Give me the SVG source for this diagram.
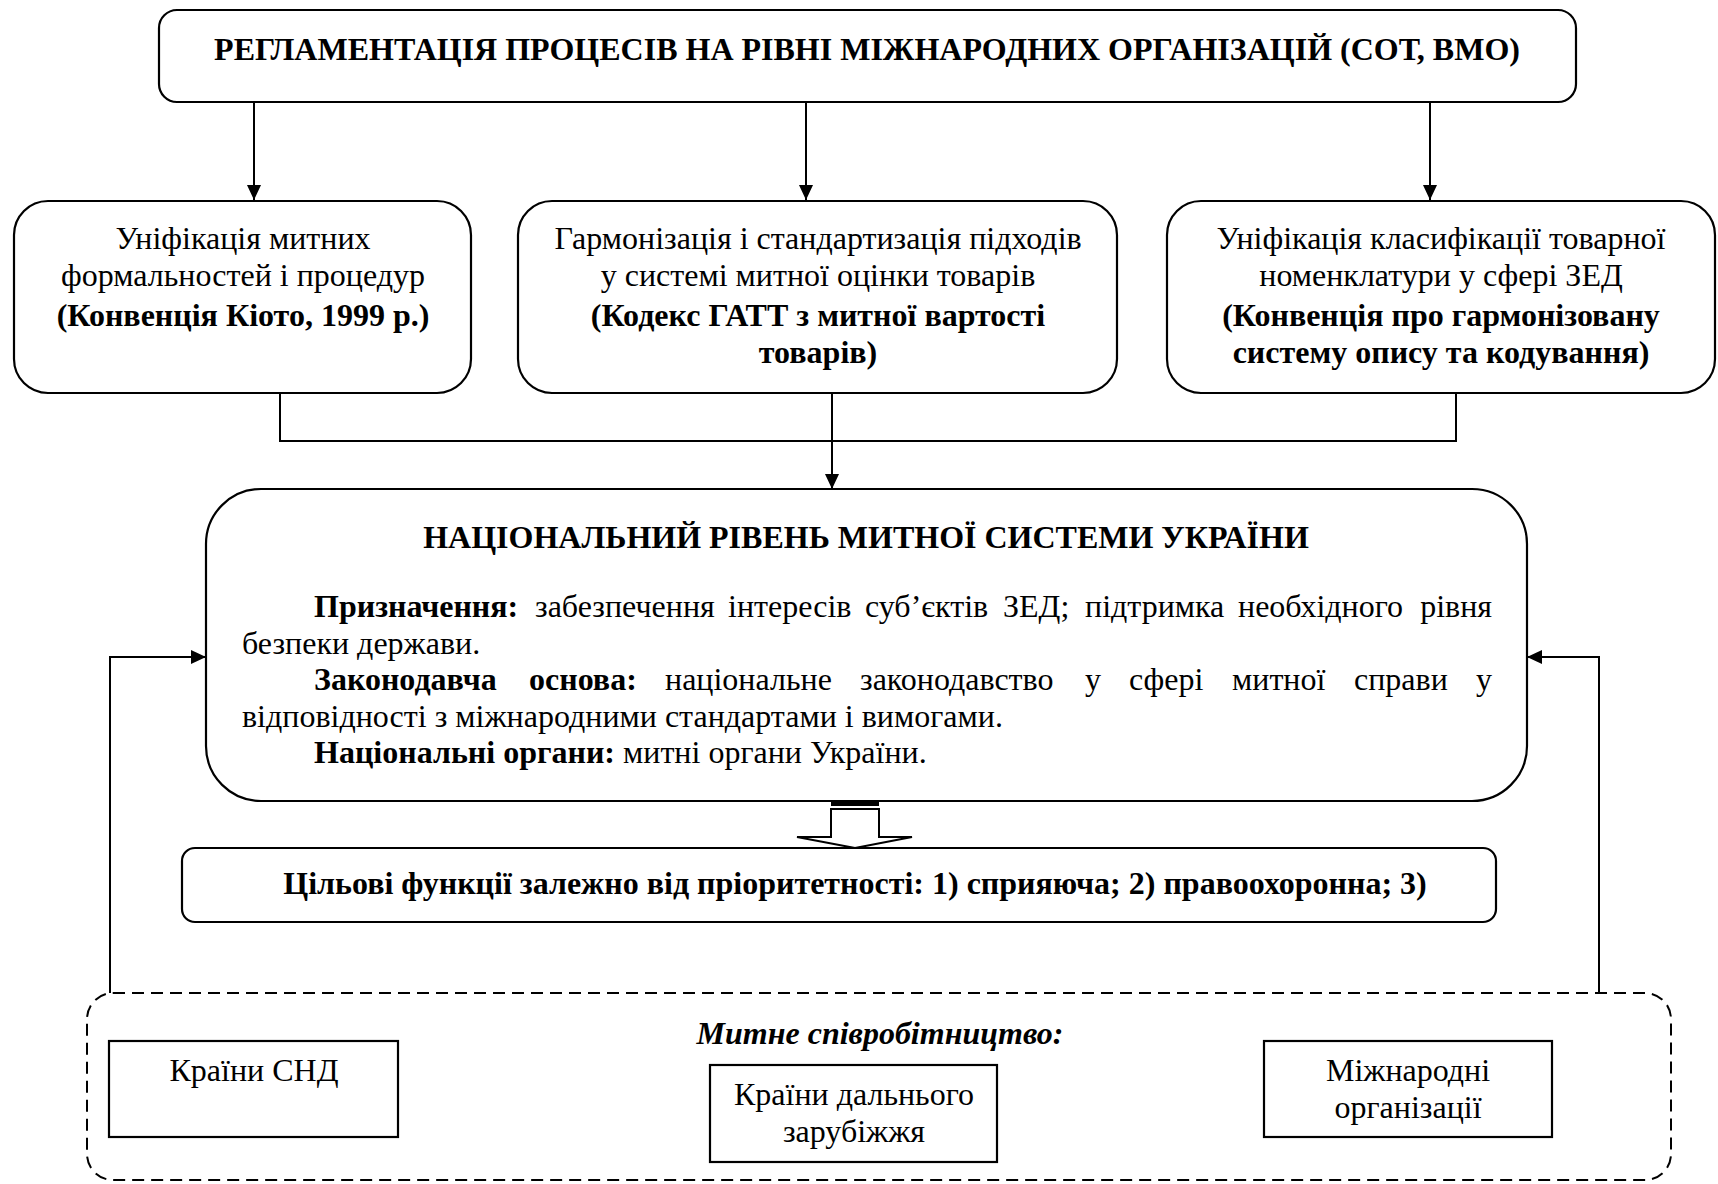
<svg xmlns="http://www.w3.org/2000/svg" width="1718" height="1184" viewBox="0 0 1718 1184">
<style>
.bx{fill:#fff;stroke:#000;stroke-width:2.2}
.ln{fill:none;stroke:#000;stroke-width:2}
.t{font-family:"Liberation Serif","Times New Roman",serif;font-size:32px;fill:#000}
.b{font-weight:bold}
.c{text-anchor:middle}
.e{text-anchor:end}
.bi{font-weight:bold;font-style:italic}
</style>
<defs>
<marker id="ah" markerWidth="15" markerHeight="14" refX="15" refY="7" orient="auto" markerUnits="userSpaceOnUse">
<path d="M0,0 L15,7 L0,14 z" fill="#000"/>
</marker>
</defs>
<rect width="1718" height="1184" fill="#fff"/>

<g id="connectors">
<path class="ln" d="M254,102 V200" marker-end="url(#ah)"/>
<path class="ln" d="M806,102 V200" marker-end="url(#ah)"/>
<path class="ln" d="M1430,102 V200" marker-end="url(#ah)"/>
<path class="ln" d="M280,393 V441 H1456 V393"/>
<path class="ln" d="M832,393 V489" marker-end="url(#ah)"/>
<path class="ln" d="M110,993 V657 H206" marker-end="url(#ah)"/>
<path class="ln" d="M1599,993 V657 H1527" marker-end="url(#ah)"/>
<rect x="831" y="801" width="48" height="5" fill="#000"/>
<polygon points="831,809 879,809 879,837 912,837 855,848 797,837 831,837" fill="#fff" stroke="#000" stroke-width="2"/>
</g>

<g id="top">
<rect class="bx" x="159" y="10" width="1417" height="92" rx="18"/>
<text class="t b c" x="867" y="60">РЕГЛАМЕНТАЦІЯ ПРОЦЕСІВ НА РІВНІ МІЖНАРОДНИХ ОРГАНІЗАЦІЙ (СОТ, ВМО)</text>
</g>

<g id="box1">
<rect class="bx" x="14" y="201" width="457" height="192" rx="34"/>
<text class="t c" x="243" y="249">Уніфікація митних</text>
<text class="t c" x="243" y="286">формальностей і процедур</text>
<text class="t b c" x="243" y="326">(Конвенція Кіото, 1999 р.)</text>
</g>

<g id="box2">
<rect class="bx" x="518" y="201" width="599" height="192" rx="34"/>
<text class="t c" x="818" y="249">Гармонізація і стандартизація підходів</text>
<text class="t c" x="818" y="286">у системі митної оцінки товарів</text>
<text class="t b c" x="818" y="326">(Кодекс ГАТТ з митної вартості</text>
<text class="t b c" x="818" y="363">товарів)</text>
</g>

<g id="box3">
<rect class="bx" x="1167" y="201" width="548" height="192" rx="34"/>
<text class="t c" x="1441" y="249">Уніфікація класифікації товарної</text>
<text class="t c" x="1441" y="286">номенклатури у сфері ЗЕД</text>
<text class="t b c" x="1441" y="326">(Конвенція про гармонізовану</text>
<text class="t b c" x="1441" y="363">систему опису та кодування)</text>
</g>

<g id="national">
<rect class="bx" x="206" y="489" width="1321" height="312" rx="55"/>
<text class="t b c" x="866" y="548">НАЦІОНАЛЬНИЙ РІВЕНЬ МИТНОЇ СИСТЕМИ УКРАЇНИ</text>
<text class="t" y="617"><tspan class="b" x="314">Призначення:</tspan><tspan x="535">забезпечення</tspan><tspan x="728">інтересів</tspan><tspan x="865">суб’єктів</tspan><tspan x="1003">ЗЕД;</tspan><tspan x="1085">підтримка</tspan><tspan x="1238">необхідного</tspan></text>
<text class="t e" x="1492" y="617">рівня</text>
<text class="t" x="242" y="654">безпеки держави.</text>
<text class="t" y="690"><tspan class="b" x="314">Законодавча</tspan><tspan class="b" x="529">основа:</tspan><tspan x="665">національне</tspan><tspan x="860">законодавство</tspan><tspan x="1085">у</tspan><tspan x="1129">сфері</tspan><tspan x="1232">митної</tspan><tspan x="1354">справи</tspan></text>
<text class="t e" x="1492" y="690">у</text>
<text class="t" x="242" y="727">відповідності з міжнародними стандартами і вимогами.</text>
<text class="t" x="314" y="763"><tspan class="b">Національні органи:</tspan> митні органи України.</text>
</g>

<g id="functions">
<rect class="bx" x="182" y="848" width="1314" height="74" rx="13"/>
<text class="t b c" x="855" y="894">Цільові функції залежно від пріоритетності: 1) сприяюча; 2) правоохоронна; 3)</text>
</g>

<g id="cooperation">
<rect x="87" y="993" width="1584" height="187" rx="26" fill="none" stroke="#000" stroke-width="2" stroke-dasharray="12,7"/>
<text class="t bi c" x="880" y="1044">Митне співробітництво:</text>
</g>

<g id="cis">
<rect class="bx" x="109" y="1041" width="289" height="96"/>
<text class="t c" x="254" y="1081">Країни СНД</text>
</g>

<g id="far">
<rect class="bx" x="710" y="1065" width="287" height="97"/>
<text class="t c" x="854" y="1105">Країни дальнього</text>
<text class="t c" x="854" y="1142">зарубіжжя</text>
</g>

<g id="intl">
<rect class="bx" x="1264" y="1041" width="288" height="96"/>
<text class="t c" x="1408" y="1081">Міжнародні</text>
<text class="t c" x="1408" y="1118">організації</text>
</g>
</svg>
